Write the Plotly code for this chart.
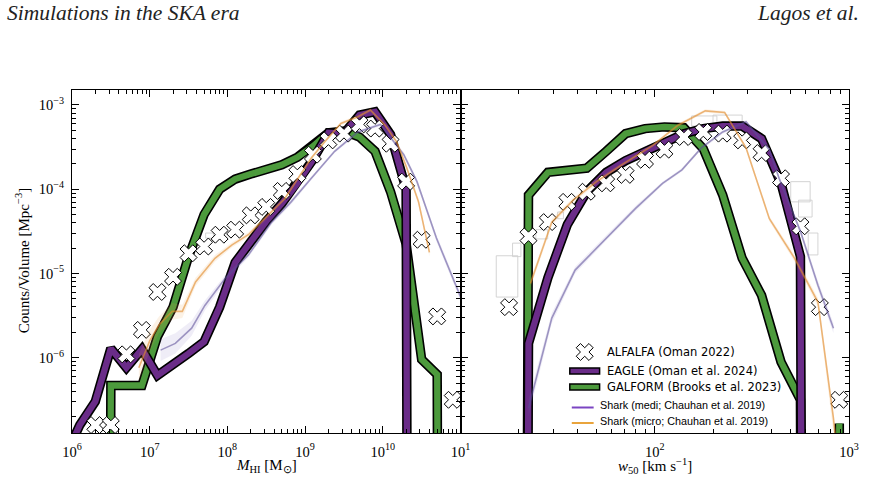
import plotly.graph_objects as go

# ---------------- DATA (log10 values) ----------------
# Left panel: HI mass function  (x = log10 M_HI [Msun], y = log10 counts/volume [Mpc^-3]); None = empty bin
eagle_mhi_logm = [5.9, 6.1, 6.3, 6.5, 6.7, 6.9, 7.1, 7.3, 7.5, 7.7, 7.9, 8.1, 8.3, 8.5, 8.7, 8.9,
                  9.1, 9.3, 9.5, 9.7, 9.9, 10.1, 10.3, 10.5]
eagle_mhi_logphi = [-7.2, -6.80, -6.52, -5.89, -6.12, -5.90, -6.21, -6.09, -5.95, -5.81, -5.40, -4.87,
                    -4.62, -4.38, -4.17, -3.93, -3.65, -3.33, -3.34, -3.12, -3.08, -3.35, -4.00, None]

galform_mhi_logm = [6.3, 6.5, 6.7, 6.9, 7.1, 7.3, 7.5, 7.7, 7.9, 8.1, 8.3, 8.5, 8.7, 8.9, 9.1, 9.3,
                    9.5, 9.7, 9.9, 10.1, 10.3, 10.5, 10.7, 10.9]
galform_mhi_logphi = [None, -6.33, -6.33, -6.33, -5.75, -5.40, -4.80, -4.30, -4.00, -3.88, -3.82, -3.77,
                      -3.71, -3.62, -3.49, -3.33, -3.31, -3.38, -3.55, -4.03, -4.65, -6.02, -6.20, None]

alfalfa_mhi_logm = [6.3, 6.5, 6.7, 6.9, 7.1, 7.3, 7.5, 7.7, 7.9, 8.1, 8.3, 8.5, 8.7, 8.9, 9.1, 9.3,
                    9.5, 9.7, 9.9, 10.1, 10.3, 10.5, 10.7, 10.9]
alfalfa_mhi_logphi = [-6.80, -6.80, -5.96, -5.67, -5.22, -5.04, -4.76, -4.68, -4.54, -4.48, -4.31, -4.21,
                      -4.02, -3.82, -3.59, -3.42, -3.34, -3.23, -3.28, -3.46, -3.91, -4.60, -5.51, -6.50]

shark_medi_mhi_logm = [7.14, 7.33, 7.54, 7.71, 7.97, 8.27, 8.57, 8.82, 9.08, 9.38, 9.68, 9.97, 10.27,
                       10.44, 10.69, 10.99, 11.10]
shark_medi_mhi_logphi = [-5.91, -5.83, -5.65, -5.38, -5.06, -4.78, -4.39, -4.15, -3.87, -3.55, -3.32, -3.23,
                         -3.59, -3.91, -4.58, -5.26, -5.50]
shark_medi_mhi_err = [0.13, 0.12, 0.09, 0.06, 0.04, 0.03, 0.03, 0.03, 0.02, 0.02, 0.02, 0.02, 0.03,
                      0.03, 0.04, 0.05, 0.05]

shark_micro_mhi_logm = [6.86, 7.00, 7.12, 7.29, 7.42, 7.59, 7.84, 8.06, 8.27, 8.48, 8.74, 8.91, 9.08,
                        9.25, 9.46, 9.68, 9.84, 10.03, 10.18, 10.31, 10.46, 10.60]
shark_micro_mhi_logphi = [-6.12, -5.80, -5.61, -5.45, -5.45, -5.10, -4.82, -4.66, -4.54, -4.35, -4.11, -3.87,
                          -3.63, -3.44, -3.22, -3.14, -3.06, -3.24, -3.44, -3.75, -4.15, -4.75]
shark_micro_mhi_err = [0.16, 0.13, 0.10, 0.10, 0.08, 0.05, 0.04, 0.03, 0.03, 0.03, 0.02, 0.02, 0.02,
                       0.02, 0.02, 0.02, 0.02, 0.02, 0.03, 0.03, 0.04, 0.05]

# Right panel: velocity width function (x = log10 w50 [km/s])
eagle_w50_logw = [1.25, 1.35, 1.45, 1.55, 1.65, 1.75, 1.85, 1.95, 2.05, 2.15, 2.25, 2.35, 2.45, 2.55,
                  2.65, 2.75, 2.85]
eagle_w50_logphi = [None, -5.83, -5.05, -4.42, -4.03, -3.80, -3.66, -3.55, -3.45, -3.34, -3.28, -3.25,
                    -3.25, -3.40, -3.93, -4.80, None]

galform_w50_logw = [1.25, 1.35, 1.45, 1.55, 1.65, 1.75, 1.85, 1.95, 2.05, 2.15, 2.25, 2.35, 2.45, 2.55,
                    2.65, 2.75, 2.85, 2.95, 3.05]
galform_w50_logphi = [None, -4.07, -3.80, -3.78, -3.75, -3.55, -3.34, -3.28, -3.26, -3.27, -3.52, -4.07,
                      -4.82, -5.26, -6.05, -6.50, None, -6.78, None]

alfalfa_w50_logw = [1.25, 1.35, 1.45, 1.55, 1.65, 1.75, 1.85, 1.95, 2.05, 2.15, 2.25, 2.35, 2.45, 2.55,
                    2.65, 2.75, 2.85, 2.95]
alfalfa_w50_logphi = [-5.40, -4.56, -4.39, -4.15, -4.03, -3.93, -3.83, -3.65, -3.53, -3.38, -3.32, -3.34,
                      -3.42, -3.57, -3.87, -4.44, -5.40, -6.50]

shark_medi_w50_logw = [1.35, 1.47, 1.59, 1.75, 1.90, 2.04, 2.14, 2.24, 2.35, 2.47, 2.59, 2.64, 2.75, 2.84, 2.92]
shark_medi_w50_logphi = [-6.60, -5.53, -4.96, -4.58, -4.23, -3.93, -3.77, -3.51, -3.32, -3.20, -3.53, -3.87,
                         -4.50, -5.14, -5.65]
shark_medi_w50_err = [0.10, 0.06, 0.04, 0.03, 0.03, 0.02, 0.02, 0.02, 0.02, 0.02, 0.02, 0.03, 0.04, 0.05, 0.06]

shark_micro_w50_logw = [1.36, 1.47, 1.58, 1.70, 1.83, 1.99, 2.12, 2.26, 2.36, 2.47, 2.59, 2.72, 2.84, 2.92, 2.95]
shark_micro_w50_logphi = [-5.12, -4.39, -4.13, -3.91, -3.71, -3.48, -3.24, -3.07, -3.09, -3.51, -4.35, -4.82,
                          -5.34, -6.72, -7.40]
shark_micro_w50_err = [0.05, 0.04, 0.03, 0.03, 0.02, 0.02, 0.02, 0.02, 0.02, 0.02, 0.03, 0.04, 0.05, 0.06, 0.06]

# light-grey step boxes (log x0, log x1, log lo, log hi)
grey_box_panel = [1, 2, 2, 2, 2, 2, 2, 2, 2, 2]
grey_box_x0 = [7.72, 1.184, 1.268, 1.388, 1.50, 2.19, 2.30, 2.70, 2.74, 2.79]
grey_box_x1 = [7.82, 1.295, 1.311, 1.449, 1.53, 2.32, 2.45, 2.80, 2.81, 2.84]
grey_box_lo = [-4.58, -5.28, -4.80, -4.59, -4.35, -3.25, -3.22, -4.15, -4.33, -4.78]
grey_box_hi = [-4.52, -4.79, -4.64, -4.48, -4.27, -3.13, -3.12, -3.91, -4.13, -4.52]

legend_names = ["ALFALFA (Oman 2022)", "EAGLE (Oman et al. 2024)", "GALFORM (Brooks et al. 2023)",
                "Shark (medi; Chauhan et al. 2019)", "Shark (micro; Chauhan et al. 2019)"]

# ---------------- STYLE ----------------
C_EAGLE = "#6a2c88"
C_GALFORM = "#4c9a3c"
C_MEDI = "rgba(88,72,150,0.55)"
C_MEDI_BAND = "rgba(120,110,190,0.12)"
C_MICRO = "rgba(226,140,45,0.62)"
C_MICRO_BAND = "rgba(235,160,80,0.14)"
C_MEDI_LEG = "#7b45c2"
C_MICRO_LEG = "#e9a43c"
FLOOR = 1e-60  # empty bins drawn (as matplotlib does) far below the axis

W, H = 871, 483
L, R, T, B = 72, 854, 90, 433
MID = 463


def lin(vals):
    return [FLOOR if v is None else 10 ** v for v in vals]


fig = go.Figure()


def thick(lx, ly, color, xa, ya):
    x = [10 ** v for v in lx]
    y = lin(ly)
    fig.add_trace(go.Scatter(x=x, y=y, mode="lines", xaxis=xa, yaxis=ya, showlegend=False,
                             hoverinfo="skip", line=dict(color="black", width=9.5)))
    fig.add_trace(go.Scatter(x=x, y=y, mode="lines", xaxis=xa, yaxis=ya, showlegend=False,
                             hoverinfo="skip", line=dict(color=color, width=6.3)))


def shark(lx, ly, err, color, band, xa, ya):
    x = [10 ** v for v in lx]
    lo = [10 ** (v - e) for v, e in zip(ly, err)]
    hi = [10 ** (v + e) for v, e in zip(ly, err)]
    fig.add_trace(go.Scatter(x=x, y=lo, mode="lines", line=dict(width=0, color=band), xaxis=xa, yaxis=ya,
                             showlegend=False, hoverinfo="skip"))
    fig.add_trace(go.Scatter(x=x, y=hi, mode="lines", line=dict(width=0, color=band), fill="tonexty",
                             fillcolor=band, xaxis=xa, yaxis=ya, showlegend=False, hoverinfo="skip"))
    fig.add_trace(go.Scatter(x=x, y=lin(ly), mode="lines", line=dict(color=color, width=1.6),
                             xaxis=xa, yaxis=ya, showlegend=False, hoverinfo="skip"))


def markers(lx, ly, xa, ya):
    fig.add_trace(go.Scatter(x=[10 ** v for v in lx], y=lin(ly), mode="markers", xaxis=xa, yaxis=ya,
                             showlegend=False, hoverinfo="skip", cliponaxis=True,
                             marker=dict(symbol="x", size=15, color="white",
                                         line=dict(color="black", width=1))))


# grey boxes
for p, x0, x1, lo, hi in zip(grey_box_panel, grey_box_x0, grey_box_x1, grey_box_lo, grey_box_hi):
    xa, ya = ("x", "y") if p == 1 else ("x2", "y2")
    fig.add_trace(go.Scatter(x=[10 ** x0, 10 ** x0, 10 ** x1, 10 ** x1, 10 ** x0],
                             y=[10 ** lo, 10 ** hi, 10 ** hi, 10 ** lo, 10 ** lo], mode="lines",
                             line=dict(color="#cfcfcf", width=0.9), xaxis=xa, yaxis=ya,
                             showlegend=False, hoverinfo="skip"))

# left panel
thick(galform_mhi_logm, galform_mhi_logphi, C_GALFORM, "x", "y")
thick(eagle_mhi_logm, eagle_mhi_logphi, C_EAGLE, "x", "y")
markers(alfalfa_mhi_logm, alfalfa_mhi_logphi, "x", "y")
shark(shark_medi_mhi_logm, shark_medi_mhi_logphi, shark_medi_mhi_err, C_MEDI, C_MEDI_BAND, "x", "y")
shark(shark_micro_mhi_logm, shark_micro_mhi_logphi, shark_micro_mhi_err, C_MICRO, C_MICRO_BAND, "x", "y")

# right panel
thick(galform_w50_logw, galform_w50_logphi, C_GALFORM, "x2", "y2")
thick(eagle_w50_logw, eagle_w50_logphi, C_EAGLE, "x2", "y2")
markers(alfalfa_w50_logw, alfalfa_w50_logphi, "x2", "y2")
shark(shark_medi_w50_logw, shark_medi_w50_logphi, shark_medi_w50_err, C_MEDI, C_MEDI_BAND, "x2", "y2")
shark(shark_micro_w50_logw, shark_micro_w50_logphi, shark_micro_w50_err, C_MICRO, C_MICRO_BAND, "x2", "y2")

# legend key marker on a hidden pixel-space overlay of the right panel
fig.add_trace(go.Scatter(x=[588], y=[352], mode="markers", xaxis="x3", yaxis="y3", showlegend=False,
                         hoverinfo="skip",
                         marker=dict(symbol="x", size=15, color="white", line=dict(color="black", width=1))))

# ---------------- AXES ----------------
TF = dict(family="Liberation Serif", size=14.5, color="black")


def sup(e):
    return "10<sup>" + str(e).replace("-", "\u2212") + "</sup>"


def minor_vals(d0, d1):
    return [m * 10 ** d for d in range(d0, d1) for m in range(2, 10)]


common = dict(type="log", showline=True, linecolor="black", linewidth=1.2, mirror="allticks",
              ticks="inside", ticklen=7, tickwidth=1, tickcolor="black", showgrid=False, zeroline=False,
              tickfont=TF, tickmode="array")

fig.update_layout(
    width=W, height=H, paper_bgcolor="white", plot_bgcolor="white",
    margin=dict(l=L, r=W - R, t=T, b=H - B), showlegend=False,
    xaxis=dict(common, domain=[0, 0.5], anchor="y", range=[6, 11], ticklabelstandoff=5,
               tickvals=[10 ** d for d in range(6, 12)],
               ticktext=[sup(d) for d in range(6, 11)] + [""],
               minor=dict(tickvals=minor_vals(6, 11), ticks="inside", ticklen=4, tickwidth=1,
                          tickcolor="black", showgrid=False)),
    yaxis=dict(common, domain=[0, 1], anchor="x", range=[-6.894, -2.822], ticklabelstandoff=4,
               tickvals=[10 ** d for d in range(-6, -2)],
               ticktext=[sup(d) for d in range(-6, -2)],
               minor=dict(tickvals=minor_vals(-7, -2), ticks="inside", ticklen=4, tickwidth=1,
                          tickcolor="black", showgrid=False)),
    xaxis2=dict(common, domain=[0.5, 1], anchor="y2", range=[1, 3], ticklabelstandoff=5,
                tickvals=[10, 100, 1000], ticktext=[sup(1), sup(2), sup(3)],
                minor=dict(tickvals=minor_vals(1, 3), ticks="inside", ticklen=4, tickwidth=1,
                           tickcolor="black", showgrid=False)),
    yaxis2=dict(common, domain=[0, 1], anchor="x2", range=[-6.894, -2.822], showticklabels=False,
                tickvals=[10 ** d for d in range(-6, -2)],
                minor=dict(tickvals=minor_vals(-7, -2), ticks="inside", ticklen=4, tickwidth=1,
                           tickcolor="black", showgrid=False)),
    xaxis3=dict(range=[MID, R], visible=False, overlaying="x2", anchor="y3"),
    yaxis3=dict(range=[B, T], visible=False, overlaying="y2", anchor="x3"),
)


def px(x):
    return (x - L) / (R - L)


def py(y):
    return (B - y) / (B - T)


ann = []
SERIF = "Liberation Serif"
ann.append(dict(text="<i>Simulations in the SKA era</i>", x=px(5), y=py(13), xanchor="left", yanchor="middle",
                font=dict(family=SERIF, size=21.5, color="#222")))
ann.append(dict(text="<i>Lagos et al.</i>", x=px(866), y=py(13), xanchor="right", yanchor="middle",
                font=dict(family=SERIF, size=21.5, color="#222")))
ann.append(dict(text="<i>M</i><sub>HI</sub> [M<sub>\u2299</sub>]", x=px(268), y=py(466), xanchor="center",
                yanchor="middle", font=dict(family=SERIF, size=15, color="black")))
ann.append(dict(text="<i>w</i><sub>50</sub> [km s<sup>\u22121</sup>]", x=px(659), y=py(466), xanchor="center",
                yanchor="middle", font=dict(family=SERIF, size=15, color="black")))
ann.append(dict(text="Counts/Volume [Mpc<sup>\u22123</sup>]", x=px(22), y=py(261), textangle=-90,
                xanchor="center", yanchor="middle", font=dict(family=SERIF, size=15, color="black")))

# legend texts
LEGF = dict(family="DejaVu Sans", size=11.5, color="black")
LEGF2 = dict(family="Liberation Sans", size=10.8, color="black")
ann.append(dict(text=legend_names[0], x=px(608), y=py(352), xanchor="left", yanchor="middle", font=LEGF))
ann.append(dict(text=legend_names[1], x=px(608), y=py(371), xanchor="left", yanchor="middle", font=LEGF))
ann.append(dict(text=legend_names[2], x=px(608), y=py(387), xanchor="left", yanchor="middle", font=LEGF))
ann.append(dict(text=legend_names[3], x=px(601), y=py(405), xanchor="left", yanchor="middle", font=LEGF2))
ann.append(dict(text=legend_names[4], x=px(601), y=py(421), xanchor="left", yanchor="middle", font=LEGF2))
for a in ann:
    a.update(xref="paper", yref="paper", showarrow=False)

shapes = [
    dict(type="rect", x0=px(573), x1=px(603), y0=py(374), y1=py(368), fillcolor=C_EAGLE,
         line=dict(color="black", width=1.5)),
    dict(type="rect", x0=px(573), x1=px(603), y0=py(390), y1=py(384), fillcolor=C_GALFORM,
         line=dict(color="black", width=1.5)),
    dict(type="line", x0=px(575), x1=px(597), y0=py(407.5), y1=py(407.5), line=dict(color=C_MEDI_LEG, width=2)),
    dict(type="line", x0=px(575), x1=px(597), y0=py(423), y1=py(423), line=dict(color=C_MICRO_LEG, width=2)),
]
for s in shapes:
    s.update(xref="paper", yref="paper")

fig.update_layout(annotations=ann, shapes=shapes)
fig.write_html("out.html")
